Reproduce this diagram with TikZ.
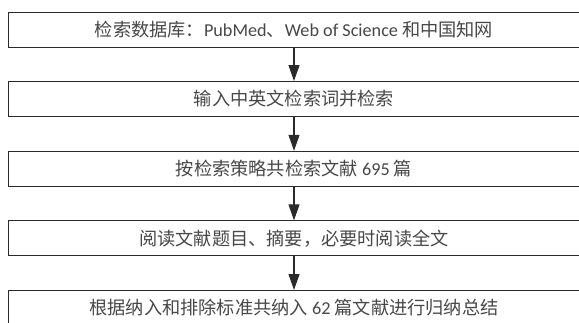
\documentclass[tikz,border=0pt]{standalone}
\usepackage{fontspec}
\setmainfont{Carlito}
\newfontfamily\cjk{Noto Sans CJK SC}
\usetikzlibrary{arrows.meta}
\definecolor{linec}{HTML}{2A2A2A}
\definecolor{textc}{HTML}{474747}
\tikzset{
  stepbox/.style={draw=linec, line width=1.1pt, minimum width=570.6pt, minimum height=34.8pt,
    inner sep=0pt, text=textc, font=\fontsize{18.2pt}{20pt}\selectfont, anchor=north},
  flowarrow/.style={draw=linec, line width=1.1pt, -{Triangle[length=16pt,width=11pt]}}
}
\begin{document}
\begin{tikzpicture}[x=1pt,y=-1pt]
\useasboundingbox (0,0) rectangle (579,322);
\clip (0,0) rectangle (579,322);
\node[stepbox] (b1) at (294,12) {{\cjk 检索数据库：}PubMed{\cjk 、}Web of Science {\cjk 和中国知网}};
\node[stepbox] (b2) at (294,81) {\cjk 输入中英文检索词并检索};
\node[stepbox] (b3) at (294,150.8) {{\cjk 按检索策略共检索文献} 695 {\cjk 篇}};
\node[stepbox] (b4) at (294,220.3) {\cjk 阅读文献题目、摘要，必要时阅读全文};
\node[stepbox] (b5) at (294,290) {{\cjk 根据纳入和排除标准共纳入} 62 {\cjk 篇文献进行归纳总结}};
\draw[flowarrow] (b1.south) -- (b2.north);
\draw[flowarrow] (b2.south) -- (b3.north);
\draw[flowarrow] (b3.south) -- (b4.north);
\draw[flowarrow] (b4.south) -- (b5.north);
\end{tikzpicture}
\end{document}
